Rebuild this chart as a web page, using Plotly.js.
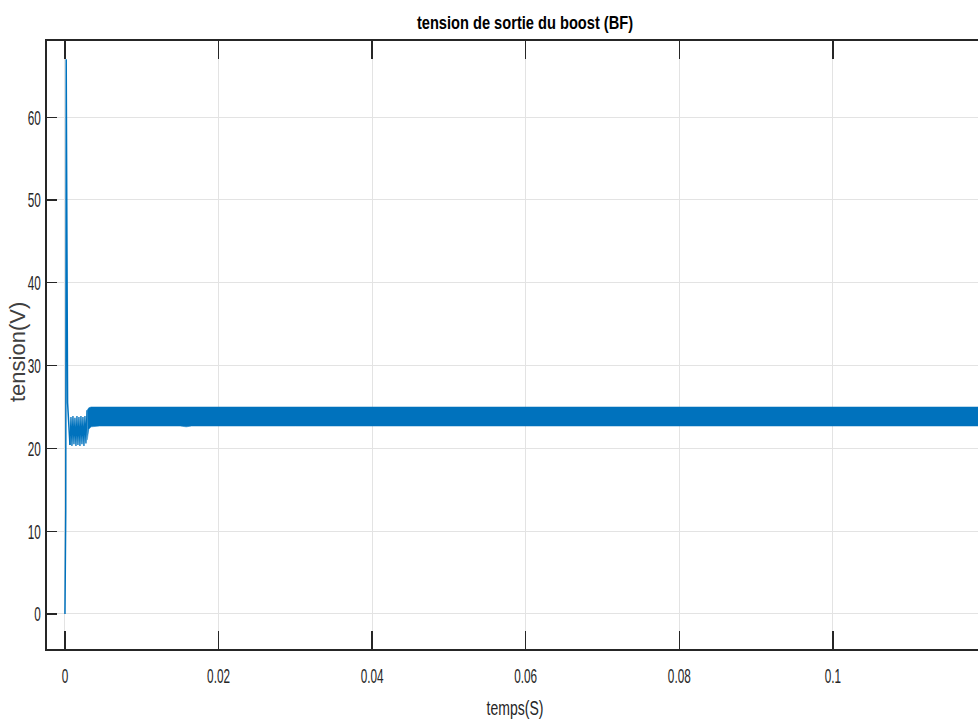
<!DOCTYPE html>
<html>
<head>
<meta charset="utf-8">
<script src="https://cdn.plot.ly/plotly-3.0.1.min.js"></script>
<style>
  html, body { margin: 0; padding: 0; background: #ffffff; }
  #chart { width: 978px; height: 725px; }
</style>
</head>
<body>
<div id="chart"></div>
<script>
// Start-up transient (spike)
const tSpike = [0, 0.00010, 0.00016, 0.00034, 0.00065];
const vSpike = [0, 12.5, 67.0, 25.5, 20.4];

// Early oscillation between ~20.3 V and ~23.9 V (0.65 ms .. 2.9 ms)
const tEarly = [0.00065, 0.00078, 0.00091, 0.00104, 0.00117, 0.00130, 0.00143, 0.00156, 0.00169,
                0.00182, 0.00195, 0.00208, 0.00221, 0.00234, 0.00247, 0.00260, 0.00273, 0.00286];
const vEarly = [20.4, 23.8, 20.3, 23.9, 20.5, 23.7, 20.3, 23.9, 20.4, 23.8, 20.3, 23.9, 20.5, 23.8,
                20.3, 23.9, 20.6, 24.6];

// Steady-state ripple band envelope (upper / lower)
const tBand = [0.0029, 0.0031, 0.0034, 0.0045, 0.010, 0.0150, 0.0158, 0.0165, 0.030, 0.060, 0.090, 0.1189];
const vUpper = [24.6, 24.9, 25.0, 25.0, 25.0, 25.0, 25.0, 25.0, 25.0, 25.0, 25.0, 25.0];
const vLower = [21.0, 22.3, 22.6, 22.7, 22.7, 22.7, 22.6, 22.7, 22.7, 22.7, 22.7, 22.7];

const yTicks = [0, 10, 20, 30, 40, 50, 60];
const xTicks = [0, 0.02, 0.04, 0.06, 0.08, 0.1];
const xTickText = ['0', '0.02', '0.04', '0.06', '0.08', '0.1'];

const lineColor = '#0072BD';
const sans = '"Liberation Sans", Arial, sans-serif';

const traces = [
  { x: tSpike, y: vSpike, mode: 'lines', line: { color: lineColor, width: 1.5 }, hoverinfo: 'skip' },
  { x: tEarly, y: vEarly, mode: 'lines', line: { color: lineColor, width: 1.3 }, hoverinfo: 'skip' },
  { x: tBand, y: vLower, mode: 'lines', line: { color: lineColor, width: 0.5 }, hoverinfo: 'skip' },
  { x: tBand, y: vUpper, mode: 'lines', fill: 'tonexty', fillcolor: lineColor,
    line: { color: lineColor, width: 0.5 }, hoverinfo: 'skip' }
];

const layout = {
  width: 978, height: 725,
  margin: { l: 47, r: 0, t: 41, b: 76 },
  paper_bgcolor: '#ffffff', plot_bgcolor: '#ffffff',
  showlegend: false,
  title: {
    text: 'tension de sortie du boost (BF)',
    font: { family: sans, size: 19, color: '#000000', weight: 'bold' },
    x: 525 / 978, xref: 'paper', xanchor: 'center',
    y: 1 - 22 / 725, yref: 'container', yanchor: 'middle'
  },
  xaxis: {
    range: [-0.00234, 0.1189],
    tickvals: xTicks, ticktext: xTickText,
    ticks: 'inside', ticklen: 18, tickwidth: 1.3, tickcolor: '#262626',
    showline: true, linecolor: '#262626', linewidth: 2, mirror: 'ticks',
    showgrid: true, gridcolor: '#e3e3e3', gridwidth: 1,
    zeroline: false,
    tickfont: { family: sans, size: 21, color: '#262626' },
    ticklabelstandoff: 7,
    title: { text: 'temps(S)', font: { family: sans, size: 20, color: '#262626' }, standoff: 15 }
  },
  yaxis: {
    range: [-4.23, 69.2],
    tickvals: yTicks,
    ticks: 'inside', ticklen: 10, tickwidth: 1.3, tickcolor: '#262626',
    showline: true, linecolor: '#262626', linewidth: 2, mirror: false,
    showgrid: true, gridcolor: '#e3e3e3', gridwidth: 1,
    zeroline: false,
    tickfont: { family: sans, size: 21, color: '#262626' },
    ticklabelstandoff: 0
  },
  annotations: [{
    text: 'tension(V)', textangle: -90, showarrow: false,
    xref: 'paper', yref: 'paper', x: (17 - 47) / 931, y: (649 - 352) / 608,
    xanchor: 'center', yanchor: 'middle',
    font: { family: sans, size: 22, color: '#404040' }
  }]
};

function squeeze(selector, factor, centerX) {
  document.querySelectorAll(selector).forEach(function (el) {
    const w = el.getComputedTextLength();
    if (w > 0) {
      el.setAttribute('textLength', (w * factor).toFixed(2));
      el.setAttribute('lengthAdjust', 'spacingAndGlyphs');
      if (centerX !== undefined) {
        const bb = el.getBBox();
        const dx = centerX - (bb.x + bb.width / 2);
        const x0 = parseFloat(el.getAttribute('x')) || 0;
        el.setAttribute('x', (x0 + dx).toFixed(2));
      }
    }
  });
}

Plotly.newPlot('chart', traces, layout, { displayModeBar: false, staticPlot: true }).then(function () {
  squeeze('#chart .xtick text', 0.56);
  squeeze('#chart .ytick text', 0.56);
  squeeze('#chart .gtitle', 0.77, 525);
  squeeze('#chart .xtitle', 0.70, 515);
});
</script>
</body>
</html>
